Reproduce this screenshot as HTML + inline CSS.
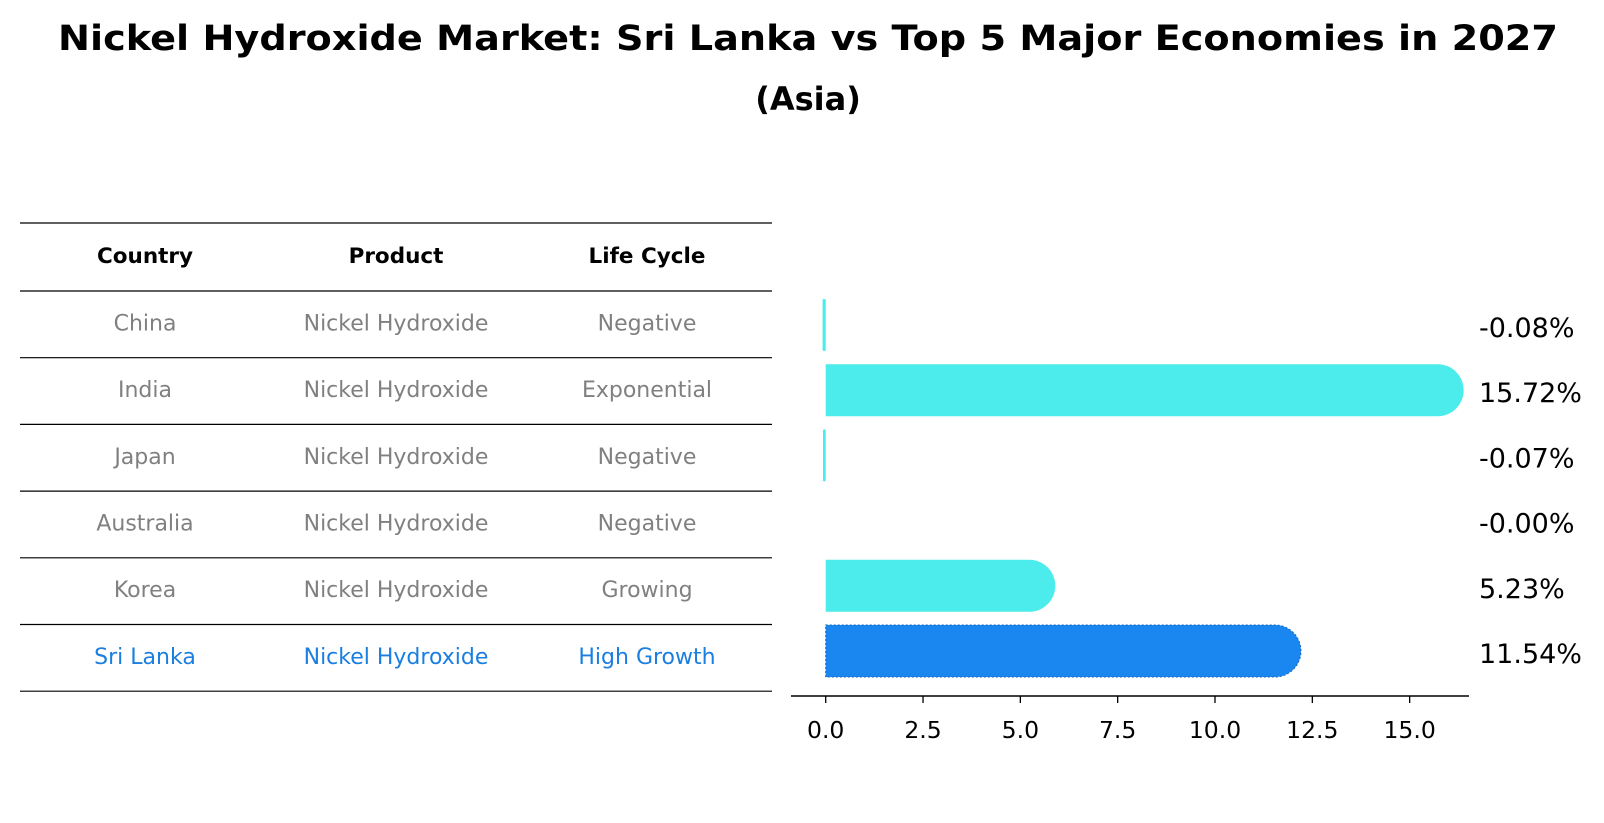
<!DOCTYPE html>
<html><head><meta charset="utf-8"><style>
body{margin:0;background:#fff}
svg{display:block;font-family:"DejaVu Sans","Liberation Sans",sans-serif}
</style></head><body>
<svg id="chart" width="1604" height="823" viewBox="0 0 1604 823">
<text x="808" y="50" text-anchor="middle" font-size="35" font-weight="bold" textLength="1500" lengthAdjust="spacingAndGlyphs">Nickel Hydroxide Market: Sri Lanka vs Top 5 Major Economies in 2027</text>
<text x="808" y="110" text-anchor="middle" font-size="32" font-weight="bold">(Asia)</text>
<g id="table"></g>
<g id="bars"></g>
</svg>
<script>
const countries=["China","India","Japan","Australia","Korea","Sri Lanka"];
const products=["Nickel Hydroxide","Nickel Hydroxide","Nickel Hydroxide","Nickel Hydroxide","Nickel Hydroxide","Nickel Hydroxide"];
const lifeCycles=["Negative","Exponential","Negative","Negative","Growing","High Growth"];
const growth=[-0.08,15.72,-0.07,-0.001,5.23,11.54];
const ticks=[0,2.5,5,7.5,10,12.5,15];
const NS="http://www.w3.org/2000/svg";
function mk(p,t,a){const e=document.createElementNS(NS,t);for(const k in a)e.setAttribute(k,a[k]);p.appendChild(e);return e;}
const tbl=document.getElementById('table');
const rowY=i=>325+i*65.2;
const colX=[145,396,647];
const lineYs=[223,291];
for(let i=0;i<countries.length;i++)lineYs.push(291+(i+1)*66.7);
lineYs.forEach((y,i)=>{const l=mk(tbl,'line',{x1:20,x2:772,y1:y,y2:y,stroke:'#000','stroke-width':1.2});

});
["Country","Product","Life Cycle"].forEach((h,j)=>{const t=mk(tbl,'text',{x:colX[j],y:263,'text-anchor':'middle','font-size':21.5,'font-weight':'bold'});t.textContent=h;

});
countries.forEach((c,i)=>{const y=291+(i+0.5)*66.7+6;const col=i===countries.length-1?'#1a7fe0':'#808080';
[c,products[i],lifeCycles[i]].forEach((v,j)=>{const t=mk(tbl,'text',{x:colX[j],y:y,'text-anchor':'middle','font-size':22,fill:col});t.textContent=v;

});});
const g=document.getElementById('bars');
const x0=825.7,ppu=38.93;
const xs=v=>x0+v*ppu;
const bh=52;
growth.forEach((v,i)=>{const cy=rowY(i);const last=i===growth.length-1;const col=last?'#1a86f0':'#4beceb';
const w=xs(v)-x0;
if(Math.abs(w)>=bh/2){
const x=Math.min(x0,xs(v)),ww=Math.abs(w)-bh/2+bh/2;
const p=mk(g,'path',{d:`M${x},${cy-bh/2} H${x+ww} A${bh/2},${bh/2} 0 0 1 ${x+ww},${cy+bh/2} H${x} Z`,fill:col});
if(last){p.setAttribute('stroke','#1565c0');p.setAttribute('stroke-dasharray','2,2');p.setAttribute('stroke-width','1');}


}else if(Math.abs(w)>=1){
const r=mk(g,'rect',{x:Math.min(x0,xs(v)),y:cy-bh/2,width:Math.max(2.5,Math.abs(w)),height:bh,fill:col,rx:1.2});


}
const t=mk(g,'text',{x:1479,y:cy+12,'font-size':27});t.textContent=v.toFixed(2)+'%';


});
const ax=mk(g,'line',{x1:791,x2:1469,y1:696,y2:696,stroke:'#000','stroke-width':1.5});


ticks.forEach(v=>{const tk=mk(g,'line',{x1:xs(v),x2:xs(v),y1:696,y2:703,stroke:'#000','stroke-width':1.3});


const t=mk(g,'text',{x:xs(v),y:738,'text-anchor':'middle','font-size':23.5});t.textContent=v.toFixed(1);

});
</script>
</body></html>
